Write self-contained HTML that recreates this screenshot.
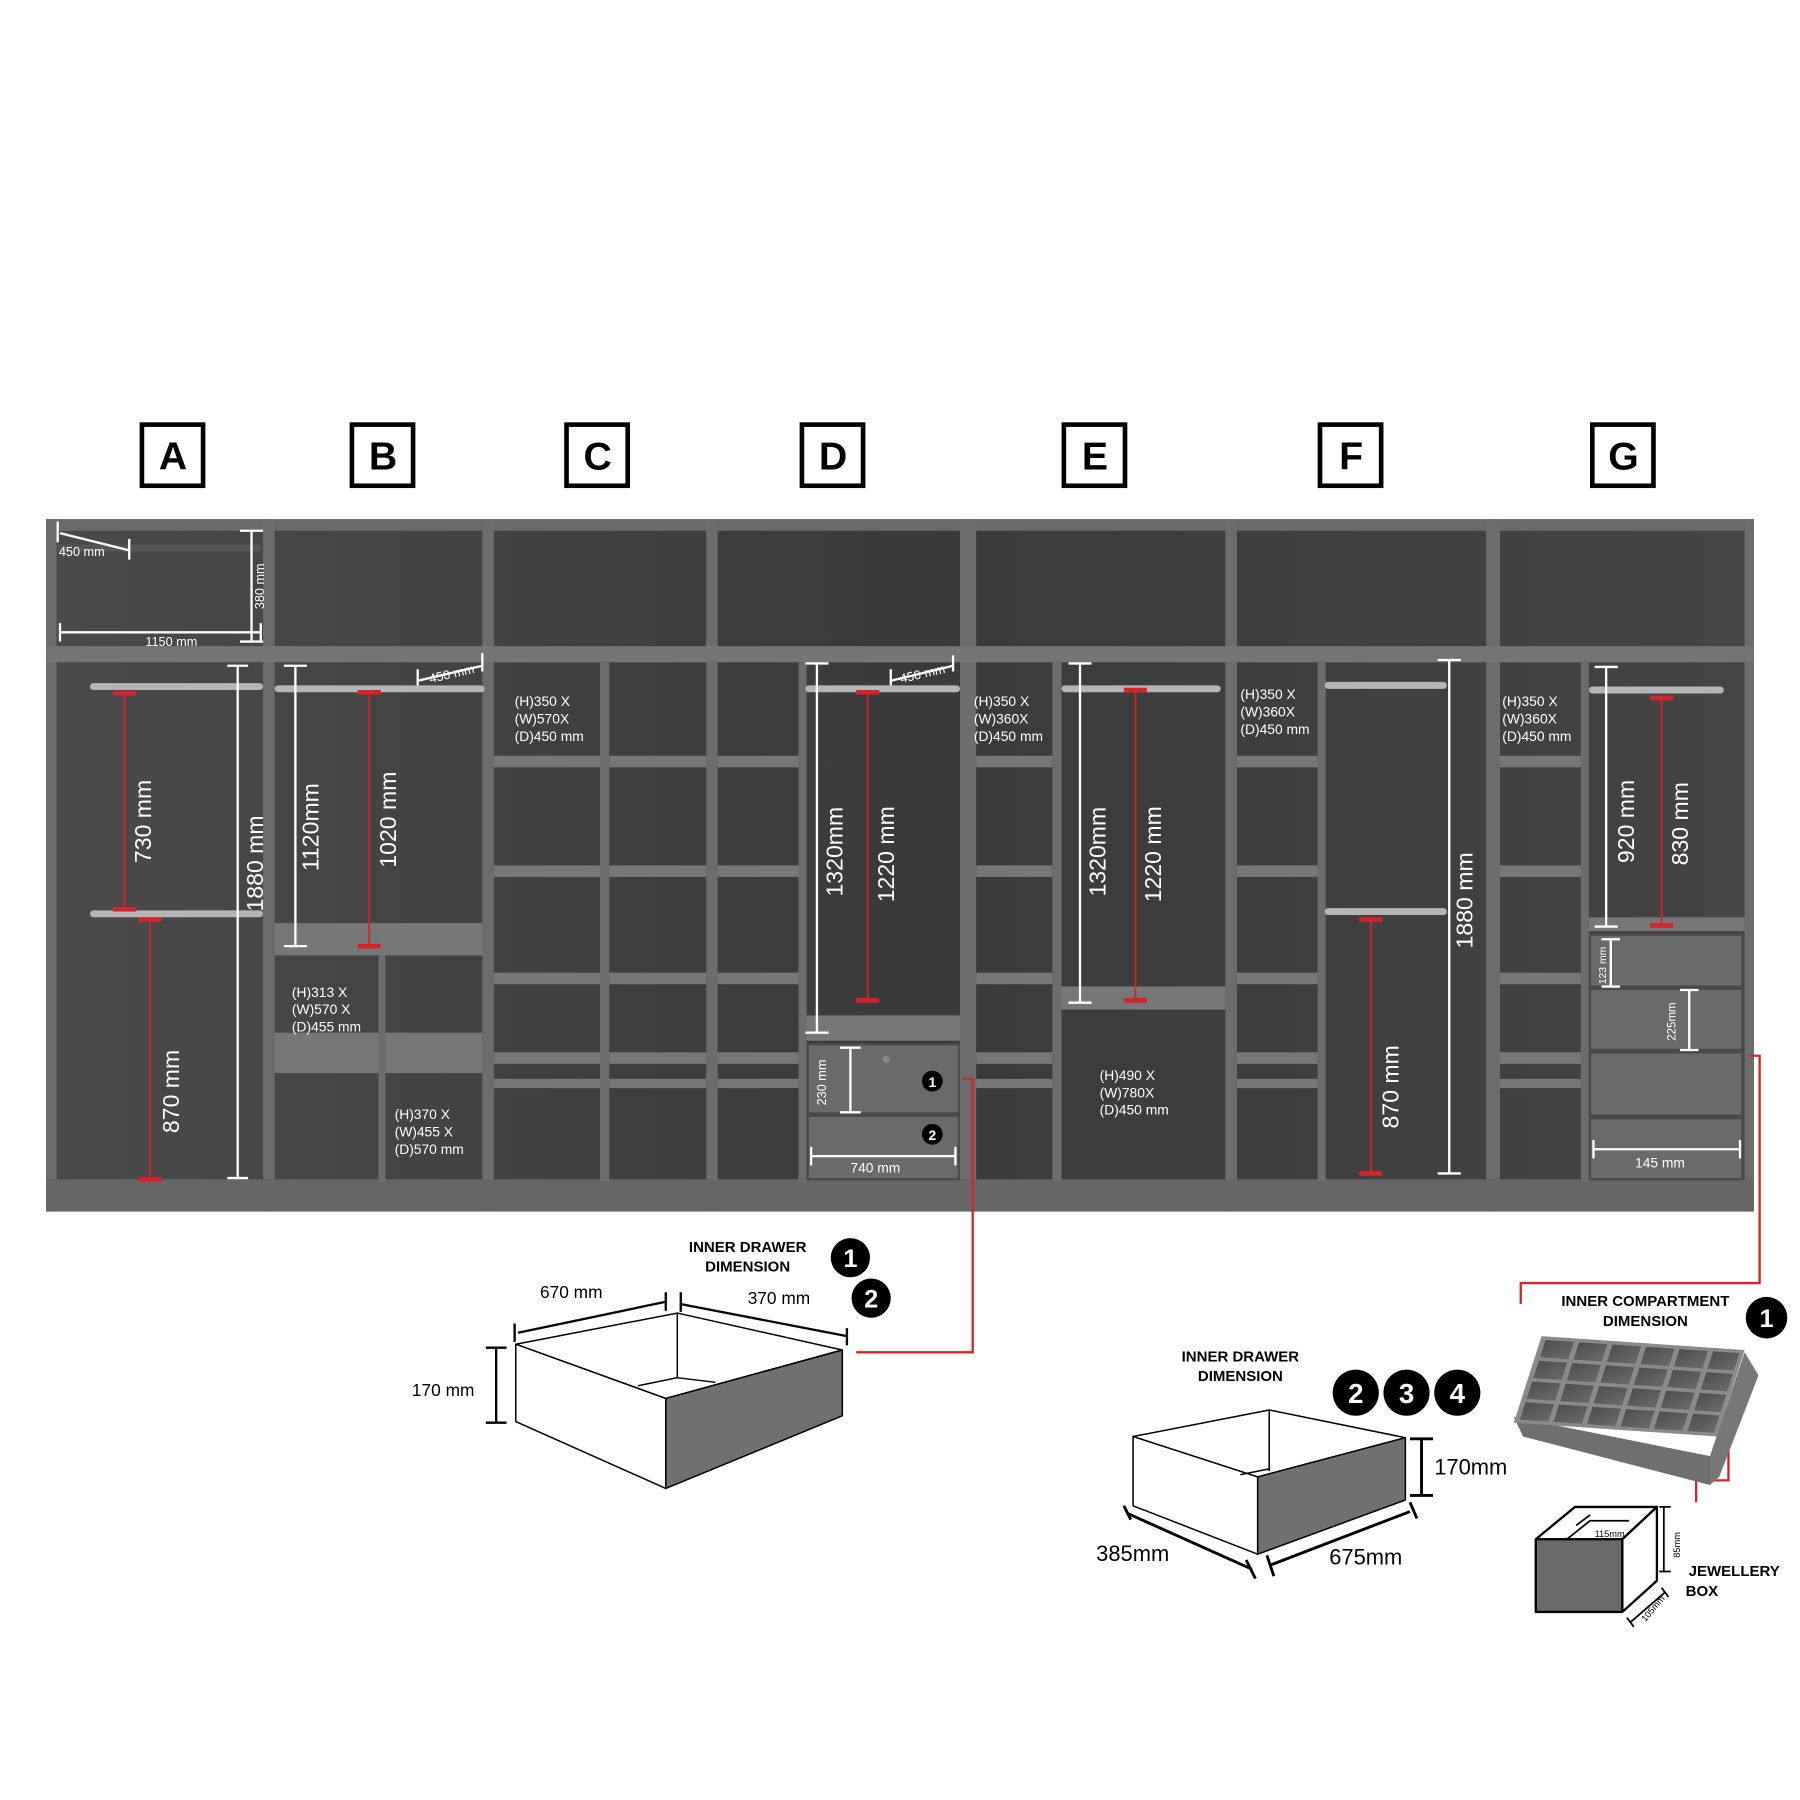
<!DOCTYPE html>
<html><head><meta charset="utf-8"><style>
html,body{margin:0;padding:0;background:#fff;}
svg{display:block;}
text{font-family:"Liberation Sans",sans-serif;}
</style></head><body>
<svg width="1800" height="1800" viewBox="0 0 1560 1560" xmlns="http://www.w3.org/2000/svg">
<defs>
<linearGradient id="bg" x1="0" y1="0" x2="1" y2="0">
<stop offset="0" stop-color="#4a4a4a"/><stop offset="0.5" stop-color="#3a3a3a"/><stop offset="1" stop-color="#444"/>
</linearGradient>
<linearGradient id="cell" x1="0" y1="0" x2="1" y2="1">
<stop offset="0" stop-color="#4e4e4e"/><stop offset="1" stop-color="#6a6a6a"/>
</linearGradient>
</defs>
<rect width="1560" height="1560" fill="#fff"/>
<g fill="none" stroke="#000" stroke-width="4">
<rect x="123" y="368" width="53" height="53"/><rect x="305" y="368" width="53" height="53"/>
<rect x="491" y="368" width="53" height="53"/><rect x="695" y="368" width="53" height="53"/>
<rect x="922" y="368" width="53" height="53"/><rect x="1144" y="368" width="53" height="53"/>
<rect x="1380" y="368" width="53" height="53"/>
</g>
<g font-size="34" font-weight="bold" text-anchor="middle">
<text x="150" y="407">A</text><text x="332" y="407">B</text><text x="518" y="407">C</text>
<text x="722" y="407">D</text><text x="949" y="407">E</text><text x="1171" y="407">F</text><text x="1407" y="407">G</text>
</g>
<rect x="40" y="450" width="1480" height="600" fill="url(#bg)"/>
<rect x="40" y="450" width="1480" height="10" fill="#6a6a6a"/>
<g fill="#6c6c6c">
<rect x="40" y="450" width="9" height="600"/><rect x="228" y="450" width="10" height="600"/>
<rect x="418" y="450" width="10" height="600"/><rect x="612" y="450" width="10" height="600"/>
<rect x="832" y="450" width="14" height="600"/><rect x="1062" y="450" width="10" height="600"/>
<rect x="1288" y="450" width="12" height="600"/><rect x="1512" y="450" width="8" height="600"/>
<rect x="40" y="560" width="1480" height="14" fill="#757575"/>
<rect x="40" y="1022" width="1480" height="28" fill="#666"/>
<rect x="520" y="574" width="8" height="450"/><rect x="692" y="574" width="7" height="450"/>
<rect x="912" y="574" width="8" height="450"/><rect x="1142" y="574" width="7" height="450"/>
<rect x="1370" y="574" width="7" height="450"/>
</g>
<rect x="50" y="472" width="176" height="6" fill="#555"/>
<g fill="#777">
<rect x="428" y="655" width="92" height="10"/><rect x="428" y="750" width="92" height="10"/><rect x="428" y="843" width="92" height="10"/><rect x="428" y="912" width="92" height="10"/><rect x="428" y="935" width="92" height="8"/>
<rect x="528" y="655" width="84" height="10"/><rect x="528" y="750" width="84" height="10"/><rect x="528" y="843" width="84" height="10"/><rect x="528" y="912" width="84" height="10"/><rect x="528" y="935" width="84" height="8"/>
<rect x="622" y="655" width="70" height="10"/><rect x="622" y="750" width="70" height="10"/><rect x="622" y="843" width="70" height="10"/><rect x="622" y="912" width="70" height="10"/><rect x="622" y="935" width="70" height="8"/>
<rect x="846" y="655" width="66" height="10"/><rect x="846" y="750" width="66" height="10"/><rect x="846" y="843" width="66" height="10"/><rect x="846" y="912" width="66" height="10"/><rect x="846" y="935" width="66" height="8"/>
<rect x="1072" y="655" width="70" height="10"/><rect x="1072" y="750" width="70" height="10"/><rect x="1072" y="843" width="70" height="10"/><rect x="1072" y="912" width="70" height="10"/><rect x="1072" y="935" width="70" height="8"/>
<rect x="1300" y="655" width="70" height="10"/><rect x="1300" y="750" width="70" height="10"/><rect x="1300" y="843" width="70" height="10"/><rect x="1300" y="912" width="70" height="10"/><rect x="1300" y="935" width="70" height="8"/>
<rect x="238" y="800" width="180" height="28"/><rect x="238" y="895" width="90" height="35"/><rect x="334" y="895" width="84" height="35"/>
<rect x="328" y="828" width="6" height="196" fill="#6c6c6c"/>
<rect x="699" y="880" width="133" height="22"/>
<rect x="920" y="855" width="142" height="20"/>
<rect x="1377" y="795" width="135" height="12"/>
</g>
<g fill="#6a6a6a" stroke="#4a4a4a" stroke-width="2">
<rect x="700" y="905" width="131" height="60"/><rect x="700" y="967" width="131" height="55"/>
<rect x="1378" y="810" width="132" height="45"/><rect x="1378" y="857" width="132" height="53"/>
<rect x="1378" y="912" width="132" height="55"/><rect x="1378" y="969" width="132" height="53"/>
</g>
<circle cx="768" cy="918" r="3" fill="#888"/>
<g fill="#b5b5b5">
<rect x="78" y="592" width="150" height="6" rx="3"/><rect x="78" y="789" width="150" height="6" rx="3"/>
<rect x="238" y="594" width="182" height="6" rx="3"/>
<rect x="698" y="594" width="134" height="6" rx="3"/>
<rect x="920" y="594" width="138" height="6" rx="3"/>
<rect x="1148" y="591" width="106" height="6" rx="3"/><rect x="1148" y="787" width="106" height="6" rx="3"/>
<rect x="1377" y="595" width="117" height="6" rx="3"/>
</g>
<g stroke="#fff" stroke-width="2" fill="none">
<path d="M52 462L112 477M50 452V470M112 467V485"/>
<path d="M52 548H226M52 540V556M226 540V556M218 460V556M208 460H228M208 556H228"/>
<path d="M206 577V1021M197 577H215M197 1021H215"/>
<path d="M256 577V820M246 577H266M246 820H266"/>
<path d="M362 590L418 577M362 580V594M418 566V582"/>
<path d="M708 575V895M698 575H718M698 895H718"/>
<path d="M772 590L826 577M772 580V594M826 568V582"/>
<path d="M737 908V964M728 908H746M728 964H746"/>
<path d="M703 1002H828M703 994V1010M828 994V1010"/>
<path d="M936 575V869M926 575H946M926 869H946"/>
<path d="M1256 572V1017M1246 572H1266M1246 1017H1266"/>
<path d="M1392 578V803M1382 578H1402M1382 803H1402"/>
<path d="M1396 814V855M1388 814H1404M1388 855H1404"/>
<path d="M1464 858V910M1456 858H1472M1456 910H1472"/>
<path d="M1381 996H1508M1381 988V1004M1508 988V1004"/>
</g>
<g stroke="#d4232a" stroke-width="1.5" fill="none">
<path d="M108 600V788M130 797V1022M320 600V820M752 600V867M984 598V867M1188 797V1017M1440 605V802"/>
</g>
<g fill="#d4232a">
<rect x="98" y="599" width="20" height="4"/><rect x="98" y="786" width="20" height="4"/>
<rect x="120" y="795" width="20" height="4"/><rect x="120" y="1020" width="20" height="4"/>
<rect x="310" y="598" width="20" height="4"/><rect x="310" y="818" width="20" height="4"/>
<rect x="742" y="598" width="20" height="4"/><rect x="742" y="865" width="20" height="4"/>
<rect x="974" y="596" width="20" height="4"/><rect x="974" y="865" width="20" height="4"/>
<rect x="1178" y="795" width="20" height="4"/><rect x="1178" y="1015" width="20" height="4"/>
<rect x="1430" y="603" width="20" height="4"/><rect x="1430" y="800" width="20" height="4"/>
</g>
<g fill="#fff" font-size="11">
<text x="51" y="482">450 mm</text>
<text x="126" y="560">1150 mm</text>
<text transform="translate(229,528) rotate(-90)">380 mm</text>
<text transform="translate(373,592) rotate(-13)">450 mm</text>
<text transform="translate(781,592) rotate(-13)">450 mm</text>
<text x="446" y="612" font-size="12">(H)350 X</text><text x="446" y="627" font-size="12">(W)570X</text><text x="446" y="642" font-size="12">(D)450 mm</text>
<text x="844" y="612" font-size="12">(H)350 X</text><text x="844" y="627" font-size="12">(W)360X</text><text x="844" y="642" font-size="12">(D)450 mm</text>
<text x="1075" y="606" font-size="12">(H)350 X</text><text x="1075" y="621" font-size="12">(W)360X</text><text x="1075" y="636" font-size="12">(D)450 mm</text>
<text x="1302" y="612" font-size="12">(H)350 X</text><text x="1302" y="627" font-size="12">(W)360X</text><text x="1302" y="642" font-size="12">(D)450 mm</text>
<text x="253" y="864" font-size="12">(H)313 X</text><text x="253" y="879" font-size="12">(W)570 X</text><text x="253" y="894" font-size="12">(D)455 mm</text>
<text x="342" y="970" font-size="12">(H)370 X</text><text x="342" y="985" font-size="12">(W)455 X</text><text x="342" y="1000" font-size="12">(D)570 mm</text>
<text x="953" y="936" font-size="12">(H)490 X</text><text x="953" y="951" font-size="12">(W)780X</text><text x="953" y="966" font-size="12">(D)450 mm</text>
<text x="737" y="1016" font-size="12">740 mm</text>
<text x="1417" y="1012" font-size="12">145 mm</text>
<text transform="translate(716,958) rotate(-90)">230 mm</text>
<text transform="translate(1392,853) rotate(-90)" font-size="9">123 mm</text>
<text transform="translate(1452,902) rotate(-90)" font-size="10">225mm</text>
</g>
<g fill="#fff" font-size="20">
<text transform="translate(131,748) rotate(-90)">730 mm</text>
<text transform="translate(155,982) rotate(-90)">870 mm</text>
<text transform="translate(228,790) rotate(-90)">1880 mm</text>
<text transform="translate(276,755) rotate(-90)">1120mm</text>
<text transform="translate(343,752) rotate(-90)">1020 mm</text>
<text transform="translate(730,777) rotate(-90)">1320mm</text>
<text transform="translate(775,782) rotate(-90)">1220 mm</text>
<text transform="translate(958,777) rotate(-90)">1320mm</text>
<text transform="translate(1006,782) rotate(-90)">1220 mm</text>
<text transform="translate(1212,978) rotate(-90)">870 mm</text>
<text transform="translate(1276,822) rotate(-90)">1880 mm</text>
<text transform="translate(1416,748) rotate(-90)">920 mm</text>
<text transform="translate(1463,750) rotate(-90)">830 mm</text>
</g>
<g font-weight="bold" text-anchor="middle">
<circle cx="808" cy="937" r="9" fill="#000"/><text x="808" y="942" fill="#fff" font-size="12">1</text>
<circle cx="808" cy="983" r="9" fill="#000"/><text x="808" y="988" fill="#fff" font-size="12">2</text>
</g>
<g stroke="#d4232a" stroke-width="2" fill="none">
<path d="M834 935H843V1172H742"/>
<path d="M1516 915H1525V1112H1318V1130"/>
<path d="M1498 1222V1283H1470V1302"/>
</g>
<g stroke="#000" stroke-width="1.3" stroke-linejoin="round">
<polygon points="447,1165 587,1138 730,1170 577,1212" fill="#fff"/>
<polygon points="447,1165 577,1212 577,1290 447,1232" fill="#fff"/>
<polygon points="577,1212 730,1170 730,1227 577,1290" fill="#707070"/>
<path d="M587,1138V1194M553,1201L587,1194L620,1198" fill="none"/>
</g>
<g stroke="#000" stroke-width="2" fill="none">
<path d="M449 1155L578 1128M446 1147V1163M577 1120V1136"/>
<path d="M589 1130L734 1158M590 1120V1137M734 1151V1166"/>
<path d="M430 1168V1233M421 1168H439M421 1233H439"/>
</g>
<g font-size="15" fill="#000">
<text x="468" y="1125">670 mm</text><text x="648" y="1130">370 mm</text><text x="357" y="1210">170 mm</text>
</g>
<g font-size="13" font-weight="bold" text-anchor="middle" fill="#000">
<text x="648" y="1085">INNER DRAWER</text><text x="648" y="1102">DIMENSION</text>
<text x="1075" y="1180">INNER DRAWER</text><text x="1075" y="1197">DIMENSION</text>
<text x="1426" y="1132">INNER COMPARTMENT</text><text x="1426" y="1149">DIMENSION</text>
<text x="1503" y="1366">JEWELLERY</text><text x="1475" y="1383">BOX</text>
</g>
<g font-weight="bold" text-anchor="middle" font-size="22">
<circle cx="737" cy="1090" r="17" fill="#000"/><text x="737" y="1098" fill="#fff">1</text>
<circle cx="755" cy="1125" r="17" fill="#000"/><text x="755" y="1133" fill="#fff">2</text>
<circle cx="1175" cy="1207" r="20" fill="#000"/><text x="1175" y="1216" fill="#fff" font-size="24">2</text>
<circle cx="1219" cy="1207" r="20" fill="#000"/><text x="1219" y="1216" fill="#fff" font-size="24">3</text>
<circle cx="1263" cy="1207" r="20" fill="#000"/><text x="1263" y="1216" fill="#fff" font-size="24">4</text>
<circle cx="1531" cy="1142" r="18" fill="#000"/><text x="1531" y="1150" fill="#fff">1</text>
</g>
<g stroke="#000" stroke-width="1.3" stroke-linejoin="round">
<polygon points="982,1245 1100,1222 1218,1246 1090,1280" fill="#fff"/>
<polygon points="982,1245 1090,1280 1090,1347 982,1305" fill="#fff"/>
<polygon points="1090,1280 1218,1246 1218,1300 1090,1347" fill="#707070"/>
<path d="M1100,1222V1275M1075,1278L1100,1273" fill="none"/>
</g>
<g stroke="#000" stroke-width="2.5" fill="none">
<path d="M1232 1247V1296M1222 1247H1242M1222 1296H1242"/>
<path d="M978 1312L1085 1360M974 1305L980 1317M1080 1352L1088 1368"/>
<path d="M1102 1356L1222 1310M1098 1348L1104 1366M1222 1302L1228 1316"/>
</g>
<g font-size="19" fill="#000">
<text x="1243" y="1278">170mm</text><text x="950" y="1353">385mm</text><text x="1152" y="1356">675mm</text>
</g>
<!-- compartment tray -->
<polygon points="1312,1228 1482,1262 1482,1287 1320,1245" fill="#6f6f6f"/>
<polygon points="1482,1262 1512,1172 1524,1192 1490,1280 1482,1287" fill="#777"/>
<g transform="matrix(176,12,-24,75,1336,1158)">
<rect x="0" y="0" width="1" height="1" fill="#8a8a8a"/>
<g fill="url(#cell)">
<rect x="0.025" y="0.04" width="0.14" height="0.2"/><rect x="0.19" y="0.04" width="0.14" height="0.2"/><rect x="0.355" y="0.04" width="0.14" height="0.2"/><rect x="0.52" y="0.04" width="0.14" height="0.2"/><rect x="0.685" y="0.04" width="0.14" height="0.2"/><rect x="0.85" y="0.04" width="0.13" height="0.2"/>
<rect x="0.025" y="0.28" width="0.14" height="0.2"/><rect x="0.19" y="0.28" width="0.14" height="0.2"/><rect x="0.355" y="0.28" width="0.14" height="0.2"/><rect x="0.52" y="0.28" width="0.14" height="0.2"/><rect x="0.685" y="0.28" width="0.14" height="0.2"/><rect x="0.85" y="0.28" width="0.13" height="0.2"/>
<rect x="0.025" y="0.52" width="0.14" height="0.2"/><rect x="0.19" y="0.52" width="0.14" height="0.2"/><rect x="0.355" y="0.52" width="0.14" height="0.2"/><rect x="0.52" y="0.52" width="0.14" height="0.2"/><rect x="0.685" y="0.52" width="0.14" height="0.2"/><rect x="0.85" y="0.52" width="0.13" height="0.2"/>
<rect x="0.025" y="0.76" width="0.14" height="0.2"/><rect x="0.19" y="0.76" width="0.14" height="0.2"/><rect x="0.355" y="0.76" width="0.14" height="0.2"/><rect x="0.52" y="0.76" width="0.14" height="0.2"/><rect x="0.685" y="0.76" width="0.14" height="0.2"/><rect x="0.85" y="0.76" width="0.13" height="0.2"/>
</g>
</g>
<g stroke="#000" stroke-width="2" stroke-linejoin="round">
<polygon points="1331,1334 1365,1306 1436,1306 1406,1334" fill="#fff"/>
<polygon points="1406,1334 1436,1306 1436,1370 1406,1397" fill="#fff"/>
<rect x="1331" y="1334" width="75" height="63" fill="#6a6a6a"/>
</g>
<g stroke="#000" stroke-width="1.5" fill="none">
<path d="M1358,1334L1378,1318H1412M1366,1322L1378,1313"/>
<path d="M1442 1306V1362M1438 1306H1448M1438 1362H1448"/>
<path d="M1413 1406L1443 1380M1410 1402L1416 1410M1440 1376L1446 1384"/>
</g>
<g font-size="8" fill="#000">
<text x="1382" y="1332">115mm</text>
<text transform="translate(1456,1350) rotate(-90)">85mm</text>
<text transform="translate(1426,1406) rotate(-50)">105mm</text>
</g>
</svg>
</body></html>
